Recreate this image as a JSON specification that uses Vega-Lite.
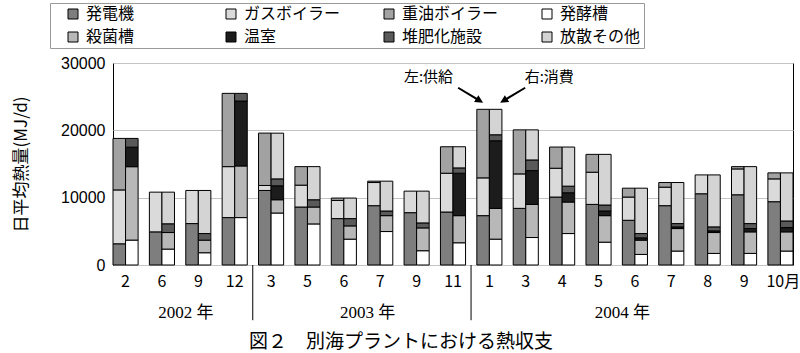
{
  "$schema": "https://vega.github.io/schema/vega-lite/v6.json",
  "width": 680,
  "height": 202,
  "autosize": "none",
  "padding": {"left": 113, "top": 63, "right": 7, "bottom": 88},
  "background": "white",
  "config": {"view": {"stroke": "black", "strokeWidth": 1}},
  "title": {
    "text": "図２　別海プラントにおける熱収支",
    "orient": "bottom",
    "anchor": "middle",
    "dx": -52,
    "offset": 12,
    "font": "Noto Sans CJK JP",
    "fontSize": 19,
    "fontWeight": "normal",
    "color": "black"
  },
  "datasets": {
    "heat": [
      {"m": "2002/2", "s": "供給", "発電機": 3150, "ガスボイラー": 8000, "重油ボイラー": 7650},
      {"m": "2002/2", "s": "消費", "発酵槽": 3700, "殺菌槽": 10900, "温室": 2900, "堆肥化施設": 1300, "放散その他": 0},
      {"m": "2002/6", "s": "供給", "発電機": 4920, "ガスボイラー": 5900, "重油ボイラー": 0},
      {"m": "2002/6", "s": "消費", "発酵槽": 2360, "殺菌槽": 2460, "温室": 0, "堆肥化施設": 1300, "放散その他": 4700},
      {"m": "2002/9", "s": "供給", "発電機": 6150, "ガスボイラー": 4920, "重油ボイラー": 0},
      {"m": "2002/9", "s": "消費", "発酵槽": 1820, "殺菌槽": 1870, "温室": 0, "堆肥化施設": 980, "放散その他": 6400},
      {"m": "2002/12", "s": "供給", "発電機": 7040, "ガスボイラー": 7570, "重油ボイラー": 10880},
      {"m": "2002/12", "s": "消費", "発酵槽": 7040, "殺菌槽": 7670, "温室": 9640, "堆肥化施設": 1140, "放散その他": 0},
      {"m": "2003/3", "s": "供給", "発電機": 11070, "ガスボイラー": 740, "重油ボイラー": 7780},
      {"m": "2003/3", "s": "消費", "発酵槽": 7720, "殺菌槽": 1970, "温室": 2070, "堆肥化施設": 1030, "放散その他": 6790},
      {"m": "2003/5", "s": "供給", "発電機": 8610, "ガスボイラー": 3250, "重油ボイラー": 2750},
      {"m": "2003/5", "s": "消費", "発酵槽": 6100, "殺菌槽": 2510, "温室": 0, "堆肥化施設": 1080, "放散その他": 4920},
      {"m": "2003/6", "s": "供給", "発電機": 6890, "ガスボイラー": 2700, "重油ボイラー": 350},
      {"m": "2003/6", "s": "消費", "発酵槽": 3840, "殺菌槽": 1970, "温室": 0, "堆肥化施設": 1080, "放散その他": 3050},
      {"m": "2003/7", "s": "供給", "発電機": 8810, "ガスボイラー": 3440, "重油ボイラー": 200},
      {"m": "2003/7", "s": "消費", "発酵槽": 4970, "殺菌槽": 2360, "温室": 0, "堆肥化施設": 690, "放散その他": 4430},
      {"m": "2003/9", "s": "供給", "発電機": 7770, "ガスボイラー": 3200, "重油ボイラー": 0},
      {"m": "2003/9", "s": "消費", "発酵槽": 2120, "殺菌槽": 3390, "温室": 0, "堆肥化施設": 740, "放散その他": 4720},
      {"m": "2003/11", "s": "供給", "発電機": 7870, "ガスボイラー": 5760, "重油ボイラー": 3930},
      {"m": "2003/11", "s": "消費", "発酵槽": 3300, "殺菌槽": 4030, "温室": 6300, "堆肥化施設": 790, "放散その他": 3140},
      {"m": "2004/1", "s": "供給", "発電機": 7330, "ガスボイラー": 5610, "重油ボイラー": 10180},
      {"m": "2004/1", "s": "消費", "発酵槽": 3840, "殺菌槽": 4570, "温室": 10040, "堆肥化施設": 890, "放散その他": 3780},
      {"m": "2004/3", "s": "供給", "発電機": 8410, "ガスボイラー": 5120, "重油ボイラー": 6540},
      {"m": "2004/3", "s": "消費", "発酵槽": 4080, "殺菌槽": 4920, "温室": 5020, "堆肥化施設": 1580, "放散その他": 4470},
      {"m": "2004/4", "s": "供給", "発電機": 10090, "ガスボイラー": 4280, "重油ボイラー": 3150},
      {"m": "2004/4", "s": "消費", "発酵槽": 4670, "殺菌槽": 4680, "温室": 1380, "堆肥化施設": 980, "放散その他": 5810},
      {"m": "2004/5", "s": "供給", "発電機": 9000, "ガスボイラー": 4780, "重油ボイラー": 2650},
      {"m": "2004/5", "s": "消費", "発酵槽": 3390, "殺菌槽": 3940, "温室": 690, "堆肥化施設": 890, "放散その他": 7520},
      {"m": "2004/6", "s": "供給", "発電機": 6640, "ガスボイラー": 3450, "重油ボイラー": 1320},
      {"m": "2004/6", "s": "消費", "発酵槽": 1570, "殺菌槽": 2120, "温室": 340, "堆肥化施設": 640, "放散その他": 6740},
      {"m": "2004/7", "s": "供給", "発電機": 8810, "ガスボイラー": 2750, "重油ボイラー": 690},
      {"m": "2004/7", "s": "消費", "発酵槽": 2070, "殺菌槽": 3340, "温室": 250, "堆肥化施設": 490, "放散その他": 6100},
      {"m": "2004/8", "s": "供給", "発電機": 10580, "ガスボイラー": 2800, "重油ボイラー": 0},
      {"m": "2004/8", "s": "消費", "発酵槽": 1720, "殺菌槽": 3100, "温室": 250, "堆肥化施設": 590, "放散その他": 7720},
      {"m": "2004/9", "s": "供給", "発電機": 10430, "ガスボイラー": 3840, "重油ボイラー": 340},
      {"m": "2004/9", "s": "消費", "発酵槽": 1720, "殺菌槽": 3200, "温室": 490, "堆肥化施設": 740, "放散その他": 8460},
      {"m": "2004/10", "s": "供給", "発電機": 9400, "ガスボイラー": 3390, "重油ボイラー": 890},
      {"m": "2004/10", "s": "消費", "発酵槽": 2070, "殺菌槽": 2850, "温室": 640, "堆肥化施設": 980, "放散その他": 7140}
    ],
    "years": [
      {"m": "2002/9", "t": "2002 年"},
      {"m": "2003/7", "t": "2003 年"},
      {"m": "2004/6", "t": "2004 年"}
    ],
    "seps": [
      {"m": "2003/3"},
      {"m": "2004/1"}
    ],
    "notes": [
      {"m": "2004/1", "s": "供給", "t": "左:供給"},
      {"m": "2004/1", "s": "消費", "t": "右:消費"}
    ]
  },
  "layer": [
    {
      "data": {"name": "heat"},
      "transform": [
        {"fold": ["発電機", "ガスボイラー", "重油ボイラー", "発酵槽", "殺菌槽", "温室", "堆肥化施設", "放散その他"], "as": ["c", "v"]},
        {"filter": "isValid(datum.v) && datum.v > 0"},
        {"calculate": "indexof(['発電機','ガスボイラー','重油ボイラー','発酵槽','殺菌槽','温室','堆肥化施設','放散その他'], datum.c)", "as": "o"}
      ],
      "mark": {"type": "bar", "stroke": "black", "strokeWidth": 1},
      "encoding": {
        "x": {
          "field": "m", "type": "nominal", "title": null,
          "scale": {
            "domain": ["2002/2","2002/6","2002/9","2002/12","2003/3","2003/5","2003/6","2003/7","2003/9","2003/11","2004/1","2004/3","2004/4","2004/5","2004/6","2004/7","2004/8","2004/9","2004/10"],
            "paddingInner": 0.31, "paddingOuter": 0
          },
          "axis": {
            "labelAngle": 0,
            "ticks": false,
            "domain": false,
            "labelExpr": "split(datum.value, '/')[1] + (datum.value == '2004/10' ? '月' : '')",
            "labelAlign": {"condition": {"test": "datum.value == '2004/10'", "value": "left"}, "value": "center"},
            "labelOffset": {"condition": {"test": "datum.value == '2004/10'", "value": -14}, "value": 0},
            "labelFont": "Noto Sans CJK JP",
            "labelFontSize": 16,
            "labelColor": "black",
            "labelPadding": 8,
            "labelBound": false,
            "labelOverlap": false
          }
        },
        "xOffset": {"field": "s", "type": "nominal", "scale": {"domain": ["供給", "消費"], "paddingInner": 0, "paddingOuter": 0}},
        "y": {
          "field": "v", "type": "quantitative", "stack": "zero",
          "title": "日平均熱量(MJ/d)",
          "scale": {"domain": [0, 30000], "nice": false},
          "axis": {
            "values": [0, 5000, 10000, 15000, 20000, 25000, 30000],
            "format": "d",
            "ticks": false,
            "domain": false,
            "grid": true,
            "gridColor": "#c4c4c4",
            "gridWidth": 1.2,
            "labelFont": "Liberation Sans",
            "labelFontSize": 16,
            "labelColor": "black",
            "labelPadding": 8,
            "titleFont": "Noto Sans CJK JP",
            "titleFontSize": 17,
            "titleFontWeight": "normal",
            "titleColor": "black",
            "titlePadding": 30
          }
        },
        "color": {
          "field": "c", "type": "nominal",
          "scale": {
            "domain": ["発電機", "ガスボイラー", "重油ボイラー", "発酵槽", "殺菌槽", "温室", "堆肥化施設", "放散その他"],
            "range": ["#7e7e7e", "#dadada", "#a2a2a2", "#ffffff", "#b8b8b8", "#1c1c1c", "#5a5a5a", "#d4d4d4"]
          },
          "legend": {
            "orient": "none",
            "legendX": -63,
            "legendY": -60,
            "direction": "horizontal",
            "columns": 4,
            "gridAlign": "all",
            "columnPadding": 40,
            "rowPadding": 7,
            "padding": 3,
            "strokeColor": "#999999",
            "fillColor": "white",
            "title": "　",
            "titleOrient": "left",
            "titleFontSize": 16,
            "titlePadding": 12,
            "symbolType": "square",
            "symbolSize": 100,
            "symbolStrokeColor": "black",
            "symbolStrokeWidth": 1,
            "symbolOpacity": 1,
            "labelFont": "Noto Sans CJK JP",
            "labelFontSize": 16,
            "labelColor": "black",
            "labelBaseline": "middle",
            "labelOffset": 5
          }
        },
        "order": {"field": "o", "type": "quantitative"}
      }
    },
    {
      "data": {"name": "seps"},
      "mark": {"type": "rule", "color": "black", "strokeWidth": 1},
      "encoding": {
        "x": {"field": "m", "type": "nominal", "bandPosition": -0.23, "title": null},
        "y": {"datum": 0, "type": "quantitative", "title": null},
        "y2": {"datum": -8200}
      }
    },
    {
      "data": {"name": "years"},
      "mark": {"type": "text", "font": "Liberation Serif, Noto Sans CJK JP", "fontSize": 17, "color": "black", "align": "center", "baseline": "middle"},
      "encoding": {
        "x": {"field": "m", "type": "nominal", "bandPosition": 0, "title": null},
        "y": {"datum": -7130, "type": "quantitative", "title": null},
        "text": {"field": "t"}
      }
    },
    {
      "data": {"name": "notes"},
      "transform": [{"filter": "datum.s == '供給'"}],
      "mark": {"type": "text", "font": "Noto Sans CJK JP", "fontSize": 15, "color": "black", "align": "right", "baseline": "middle", "dx": -30},
      "encoding": {
        "x": {"field": "m", "type": "nominal", "title": null},
        "xOffset": {"field": "s", "type": "nominal"},
        "y": {"datum": 27920, "type": "quantitative", "title": null},
        "text": {"field": "t"}
      }
    },
    {
      "data": {"name": "notes"},
      "transform": [{"filter": "datum.s == '消費'"}],
      "mark": {"type": "text", "font": "Noto Sans CJK JP", "fontSize": 15, "color": "black", "align": "left", "baseline": "middle", "dx": 29},
      "encoding": {
        "x": {"field": "m", "type": "nominal", "title": null},
        "xOffset": {"field": "s", "type": "nominal"},
        "y": {"datum": 27920, "type": "quantitative", "title": null},
        "text": {"field": "t"}
      }
    },
    {
      "data": {"name": "notes"},
      "mark": {"type": "point", "filled": true, "opacity": 1, "size": 2500, "color": "black", "strokeWidth": 0},
      "encoding": {
        "x": {"field": "m", "type": "nominal", "title": null},
        "xOffset": {"field": "s", "type": "nominal"},
        "y": {"datum": 24100, "type": "quantitative", "title": null},
        "shape": {
          "field": "s", "type": "nominal", "legend": null,
          "scale": {
            "domain": ["供給", "消費"],
            "range": [
              "M-1.02,-0.57L-0.3,-0.13L-0.36,-0.03L0,0L-0.19,-0.3L-0.25,-0.2L-0.98,-0.63Z",
              "M1.2,-0.57L0.48,-0.13L0.54,-0.03L0.18,0L0.37,-0.3L0.43,-0.2L1.16,-0.63Z"
            ]
          }
        }
      }
    }
  ]
}
